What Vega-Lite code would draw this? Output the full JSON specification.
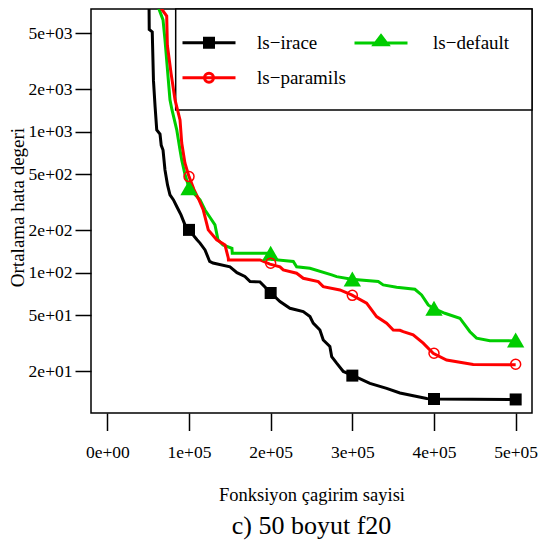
{
  "$schema": "https://vega.github.io/schema/vega-lite/v6.json",
  "width": 441,
  "height": 404,
  "autosize": "none",
  "padding": {"left": 91, "top": 9, "right": 12, "bottom": 128},
  "background": "white",
  "config": {
    "view": {"stroke": "black", "strokeWidth": 1.5},
    "font": "Liberation Serif",
    "title": {"fontSize": 26, "font": "Liberation Serif", "fontWeight": "normal", "color": "black"},
    "axis": {
      "domain": false, "grid": false, "tickColor": "black", "tickWidth": 1.5,
      "labelColor": "black", "titleColor": "black",
      "labelFont": "Liberation Serif", "titleFont": "Liberation Serif",
      "titleFontWeight": "normal", "labelFontSize": 17.5, "titleFontSize": 18.5
    }
  },
  "title": {
    "text": "c) 50 boyut f20", "orient": "bottom", "anchor": "middle",
    "font": "Liberation Serif", "fontSize": 26, "fontWeight": "normal",
    "color": "black", "baseline": "alphabetic", "offset": 30
  },
  "datasets": {
    "curves": [
      {"s":"ls−irace","x":51000,"y":9000},{"s":"ls−irace","x":51300,"y":5300},{"s":"ls−irace","x":55000,"y":5100},{"s":"ls−irace","x":56500,"y":2300},{"s":"ls−irace","x":58500,"y":1500},{"s":"ls−irace","x":60500,"y":1030},{"s":"ls−irace","x":64500,"y":960},{"s":"ls−irace","x":66000,"y":800},{"s":"ls−irace","x":68200,"y":740},{"s":"ls−irace","x":70600,"y":535},{"s":"ls−irace","x":73700,"y":419},{"s":"ls−irace","x":76700,"y":356},{"s":"ls−irace","x":81000,"y":328},{"s":"ls−irace","x":85300,"y":292},{"s":"ls−irace","x":90200,"y":257},{"s":"ls−irace","x":95100,"y":218},{"s":"ls−irace","x":100000,"y":201},{"s":"ls−irace","x":109800,"y":171},{"s":"ls−irace","x":113500,"y":162},{"s":"ls−irace","x":119600,"y":145},{"s":"ls−irace","x":125300,"y":120},{"s":"ls−irace","x":129400,"y":117},{"s":"ls−irace","x":150200,"y":110},{"s":"ls−irace","x":158700,"y":100},{"s":"ls−irace","x":168400,"y":94},{"s":"ls−irace","x":174800,"y":86.4},{"s":"ls−irace","x":186900,"y":86},{"s":"ls−irace","x":200000,"y":72},{"s":"ls−irace","x":211400,"y":62.3},{"s":"ls−irace","x":223600,"y":55.9},{"s":"ls−irace","x":239900,"y":52.9},{"s":"ls−irace","x":248100,"y":48.8},{"s":"ls−irace","x":252100,"y":43.8},{"s":"ls−irace","x":260300,"y":39.2},{"s":"ls−irace","x":264400,"y":33.3},{"s":"ls−irace","x":272500,"y":29.9},{"s":"ls−irace","x":274700,"y":25.4},{"s":"ls−irace","x":280800,"y":22.8},{"s":"ls−irace","x":288900,"y":19.9},{"s":"ls−irace","x":301100,"y":18.6},{"s":"ls−irace","x":321500,"y":16.4},{"s":"ls−irace","x":342000,"y":15.1},{"s":"ls−irace","x":358300,"y":14.0},{"s":"ls−irace","x":391000,"y":12.8},{"s":"ls−irace","x":400000,"y":12.7},{"s":"ls−irace","x":500000,"y":12.6},
      {"s":"ls−default","x":62500,"y":9000},{"s":"ls−default","x":63300,"y":7400},{"s":"ls−default","x":68200,"y":6200},{"s":"ls−default","x":70600,"y":4470},{"s":"ls−default","x":76700,"y":1680},{"s":"ls−default","x":79200,"y":1425},{"s":"ls−default","x":85000,"y":1030},{"s":"ls−default","x":89000,"y":742},{"s":"ls−default","x":91100,"y":630},{"s":"ls−default","x":95000,"y":500},{"s":"ls−default","x":100000,"y":400},{"s":"ls−default","x":107000,"y":360},{"s":"ls−default","x":113500,"y":328},{"s":"ls−default","x":119600,"y":278},{"s":"ls−default","x":125000,"y":250},{"s":"ls−default","x":131800,"y":218},{"s":"ls−default","x":135500,"y":171},{"s":"ls−default","x":141600,"y":157},{"s":"ls−default","x":152600,"y":149},{"s":"ls−default","x":153000,"y":137},{"s":"ls−default","x":200000,"y":137},{"s":"ls−default","x":202000,"y":124},{"s":"ls−default","x":227700,"y":120},{"s":"ls−default","x":231800,"y":110},{"s":"ls−default","x":248100,"y":107.5},{"s":"ls−default","x":274700,"y":96.3},{"s":"ls−default","x":280800,"y":93.7},{"s":"ls−default","x":299100,"y":89.8},{"s":"ls−default","x":331700,"y":86.4},{"s":"ls−default","x":337800,"y":81.8},{"s":"ls−default","x":354200,"y":78.8},{"s":"ls−default","x":376600,"y":76.2},{"s":"ls−default","x":384800,"y":69.5},{"s":"ls−default","x":392900,"y":59},{"s":"ls−default","x":399000,"y":55.9},{"s":"ls−default","x":413300,"y":51.5},{"s":"ls−default","x":431700,"y":47.5},{"s":"ls−default","x":444000,"y":38.1},{"s":"ls−default","x":452100,"y":34.3},{"s":"ls−default","x":468400,"y":32.9},{"s":"ls−default","x":500000,"y":32.8},
      {"s":"ls−paramils","x":65500,"y":9000},{"s":"ls−paramils","x":66600,"y":7400},{"s":"ls−paramils","x":72700,"y":6600},{"s":"ls−paramils","x":73500,"y":4100},{"s":"ls−paramils","x":78000,"y":2600},{"s":"ls−paramils","x":82900,"y":1680},{"s":"ls−paramils","x":89000,"y":1210},{"s":"ls−paramils","x":91100,"y":830},{"s":"ls−paramils","x":95000,"y":600},{"s":"ls−paramils","x":100000,"y":480},{"s":"ls−paramils","x":106000,"y":390},{"s":"ls−paramils","x":112000,"y":330},{"s":"ls−paramils","x":117500,"y":278},{"s":"ls−paramils","x":123600,"y":201},{"s":"ls−paramils","x":133900,"y":171},{"s":"ls−paramils","x":144100,"y":157},{"s":"ls−paramils","x":148100,"y":127},{"s":"ls−paramils","x":148300,"y":123},{"s":"ls−paramils","x":186900,"y":123},{"s":"ls−paramils","x":199100,"y":115},{"s":"ls−paramils","x":211400,"y":110},{"s":"ls−paramils","x":215400,"y":104.5},{"s":"ls−paramils","x":231800,"y":99},{"s":"ls−paramils","x":239900,"y":91.2},{"s":"ls−paramils","x":258300,"y":86.4},{"s":"ls−paramils","x":264400,"y":79.6},{"s":"ls−paramils","x":284800,"y":75.4},{"s":"ls−paramils","x":299100,"y":69.5},{"s":"ls−paramils","x":317500,"y":60.7},{"s":"ls−paramils","x":329700,"y":48.8},{"s":"ls−paramils","x":342000,"y":43.8},{"s":"ls−paramils","x":350100,"y":39.2},{"s":"ls−paramils","x":358300,"y":39},{"s":"ls−paramils","x":362300,"y":38.1},{"s":"ls−paramils","x":374500,"y":36.2},{"s":"ls−paramils","x":386800,"y":31.6},{"s":"ls−paramils","x":399000,"y":26.8},{"s":"ls−paramils","x":415400,"y":24.0},{"s":"ls−paramils","x":448000,"y":22.3},{"s":"ls−paramils","x":500000,"y":22.2}
    ],
    "markers": [
      {"s":"ls−irace","x":100000,"y":201},{"s":"ls−irace","x":200000,"y":71.7},{"s":"ls−irace","x":300000,"y":18.6},{"s":"ls−irace","x":400000,"y":12.7},{"s":"ls−irace","x":500000,"y":12.6},
      {"s":"ls−default","x":100000,"y":400},{"s":"ls−default","x":200000,"y":137},{"s":"ls−default","x":300000,"y":90},{"s":"ls−default","x":400000,"y":56},{"s":"ls−default","x":500000,"y":33.3},
      {"s":"ls−paramils","x":100000,"y":480},{"s":"ls−paramils","x":200000,"y":116.6},{"s":"ls−paramils","x":300000,"y":69},{"s":"ls−paramils","x":400000,"y":26.8},{"s":"ls−paramils","x":500000,"y":22.4}
    ]
  },
  "layer": [
    {
      "data": {"values": [{}]},
      "mark": {"type": "rect", "fill": "white", "stroke": "black", "strokeWidth": 1.5},
      "encoding": {
        "x": {"datum": 83700, "type": "quantitative", "scale": {"domain": [-20000, 520000], "nice": false, "zero": false}},
        "x2": {"datum": 520000},
        "y": {"datum": 7413, "type": "quantitative", "scale": {"type": "log", "domain": [10.1, 7413], "nice": false}},
        "y2": {"datum": 1425}
      }
    },
    {
      "data": {"name": "curves"},
      "mark": {"type": "line", "strokeWidth": 3, "clip": true},
      "encoding": {
        "x": {"field": "x", "type": "quantitative", "scale": {"domain": [-20000, 520000], "nice": false, "zero": false},
          "axis": {"values": [0, 100000, 200000, 300000, 400000, 500000], "labelExpr": "replace(format(datum.value, '.0e'), 'e+', 'e+0')",
            "tickSize": 17.5, "labelPadding": 13, "title": "Fonksiyon çagirim sayisi",
            "titleX": 220.5, "titleY": 87, "titleBaseline": "alphabetic", "titleAlign": "center"}},
        "y": {"field": "y", "type": "quantitative", "scale": {"type": "log", "domain": [10.1, 7413], "nice": false},
          "axis": {"values": [20, 50, 100, 200, 500, 1000, 2000, 5000], "labelExpr": "replace(format(datum.value, '.0e'), 'e+', 'e+0')",
            "tickSize": 16, "labelPadding": 3, "title": "Ortalama hata degeri", "titleFontSize": 19,
            "titleX": -67.5, "titleY": 198, "titleAngle": -90, "titleBaseline": "alphabetic", "titleAlign": "center"}},
        "color": {"field": "s", "type": "nominal",
          "scale": {"domain": ["ls−irace", "ls−paramils", "ls−default"], "range": ["#000000", "#FF0000", "#00CD00"]},
          "legend": {
            "orient": "none", "legendX": 106.5, "legendY": 22.2, "columns": 2, "title": null, "padding": 0,
            "labelFont": "Liberation Serif", "labelFontSize": 19, "labelColor": "black",
            "symbolSize": 400, "symbolStrokeWidth": 3, "labelOffset": 36.5, "columnPadding": 2, "rowPadding": 13,
            "encode": {
              "labels": {"update": {"dx": {"signal": "datum.value == 'ls−default' ? 4 : 0"}}},
              "symbols": {"update": {
              "shape": {"signal": "datum.value == 'ls−irace' ? 'M-2.65,0H2.65M-0.45,-0.45H0.45V0.45H-0.45Z' : datum.value == 'ls−default' ? 'M-2.65,0H2.65M0,-0.72L0.68,0.18H-0.68Z' : 'M-2.65,0H2.65M0.45,0A0.45,0.45,0,1,1,-0.45,0A0.45,0.45,0,1,1,0.45,0'"},
              "fill": {"signal": "datum.value == 'ls−irace' ? '#000000' : datum.value == 'ls−default' ? '#00CD00' : 'transparent'"},
              "stroke": {"signal": "datum.value == 'ls−irace' ? '#000000' : datum.value == 'ls−default' ? '#00CD00' : '#FF0000'"},
              "strokeWidth": {"value": 3},
              "opacity": {"value": 1}
            }}}
          }}
      }
    },
    {
      "data": {"name": "markers"},
      "transform": [{"filter": "datum.s == 'ls−irace'"}],
      "mark": {"type": "square", "size": 144, "filled": true, "color": "#000000", "opacity": 1},
      "encoding": {"x": {"field": "x", "type": "quantitative"}, "y": {"field": "y", "type": "quantitative"}}
    },
    {
      "data": {"name": "markers"},
      "transform": [{"filter": "datum.s == 'ls−default'"}],
      "mark": {"type": "point", "shape": "triangle-up", "size": 300, "filled": true, "color": "#00CD00", "opacity": 1},
      "encoding": {"x": {"field": "x", "type": "quantitative"}, "y": {"field": "y", "type": "quantitative"}}
    },
    {
      "data": {"name": "markers"},
      "transform": [{"filter": "datum.s == 'ls−paramils'"}],
      "mark": {"type": "point", "shape": "circle", "size": 100, "filled": false, "color": "#FF0000", "strokeWidth": 1.5, "opacity": 1},
      "encoding": {"x": {"field": "x", "type": "quantitative"}, "y": {"field": "y", "type": "quantitative"}}
    }
  ]
}
